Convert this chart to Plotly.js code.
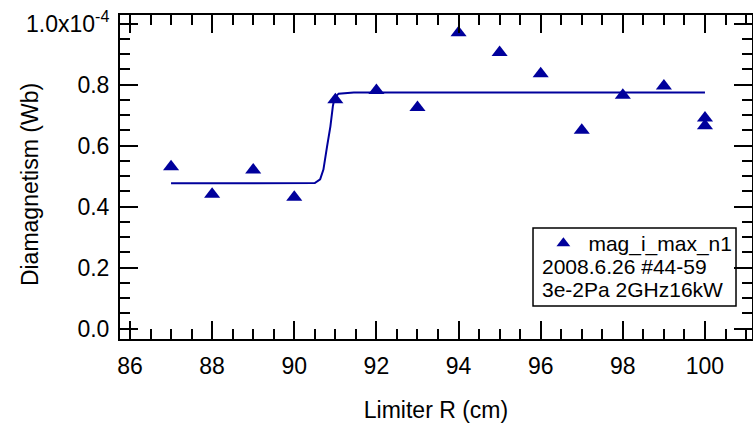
<!DOCTYPE html>
<html>
<head>
<meta charset="utf-8">
<script src="https://cdn.plot.ly/plotly-3.0.1.min.js"></script>
<style>html,body{margin:0;padding:0;background:#fff;}#chart{width:753px;height:427px;}</style>
</head>
<body>
<div id="chart"></div>
<script>
// Data (Diamagnetism in units of 1e-4 Wb)
const limiterR = [87, 88, 89, 90, 91, 92, 93, 94, 95, 96, 97, 98, 99, 100, 100];
const diamag = [0.53, 0.44, 0.52, 0.43, 0.75, 0.78, 0.725, 0.97, 0.905, 0.835, 0.65, 0.765, 0.795, 0.69, 0.665];
// Fit curve
const fitR = [87, 90.5, 90.63, 90.71, 90.8, 90.88, 90.94, 90.98, 91.08, 91.45, 100];
const fitY = [0.476, 0.477, 0.489, 0.521, 0.598, 0.663, 0.729, 0.756, 0.770, 0.774, 0.774];
const xTicks = [86, 88, 90, 92, 94, 96, 98, 100];
const yTicks = [0, 0.2, 0.4, 0.6, 0.8, 1.0];
const yTickText = ['0.0', '0.2', '0.4', '0.6', '0.8', '1.0x10<sup>-4</sup>'];
const seriesName = 'mag_i_max_n1';
const noteLines = ['2008.6.26 #44-59', '3e-2Pa 2GHz16kW'];

const FONT = 'Arial, "Liberation Sans", Helvetica, sans-serif';
const BLUE = '#00009c';

const traces = [
  {x: fitR, y: fitY, mode: 'lines', line: {color: BLUE, width: 2}, showlegend: false, hoverinfo: 'skip'},
  {x: limiterR, y: diamag, mode: 'markers', name: seriesName,
   marker: {symbol: 'triangle-up', size: 14, color: BLUE}}
];

const axisCommon = {
  showline: true, linecolor: '#000', linewidth: 2, mirror: 'ticks',
  ticks: 'inside', ticklen: 18, tickwidth: 2, tickcolor: '#000',
  showgrid: false, zeroline: false,
  tickfont: {family: FONT, size: 23, color: '#000'}
};

const layout = {
  width: 753, height: 427,
  margin: {l: 120, r: 1, t: 15, b: 88},
  paper_bgcolor: '#fff', plot_bgcolor: '#fff',
  font: {family: FONT, color: '#000'},
  xaxis: Object.assign({}, axisCommon, {
    range: [85.757, 101.145], tickvals: xTicks,
    minor: {tick0: 86, dtick: 0.5, ticks: 'inside', ticklen: 10, tickwidth: 2, tickcolor: '#000', showgrid: false},
    ticklabelstandoff: 5,
    title: {text: 'Limiter R (cm)', font: {family: FONT, size: 23, color: '#000'}, standoff: 24}
  }),
  yaxis: Object.assign({}, axisCommon, {
    range: [-0.0344, 1.0279], tickvals: yTicks, ticktext: yTickText,
    minor: {tick0: 0, dtick: 0.05, ticks: 'inside', ticklen: 10, tickwidth: 2, tickcolor: '#000', showgrid: false},
    ticklabelstandoff: 4
  }),
  showlegend: true,
  legend: {x: 0.662, y: 0.358, xanchor: 'left', yanchor: 'top', bgcolor: 'rgba(0,0,0,0)', borderwidth: 0,
           font: {family: FONT, size: 21, color: '#000'}, itemsizing: 'constant', itemwidth: 40, tracegroupgap: 0},
  shapes: [
    {type: 'rect', xref: 'paper', yref: 'paper', x0: 0.6535, x1: 0.9747, y0: 0.1019, y1: 0.3426,
     line: {color: '#000', width: 1.5}, fillcolor: 'rgba(255,255,255,0)', layer: 'above'}
  ],
  annotations: [
    {text: 'Diamagnetism (Wb)', xref: 'paper', yref: 'paper', x: -0.1424, y: 0.475, textangle: -90,
     xanchor: 'center', yanchor: 'middle', showarrow: false, font: {family: FONT, size: 23, color: '#000'}},
    {text: noteLines[0], xref: 'paper', yref: 'paper', x: 0.6646, y: 0.2253, xanchor: 'left', yanchor: 'middle',
     showarrow: false, font: {family: FONT, size: 21, color: '#000'}},
    {text: noteLines[1], xref: 'paper', yref: 'paper', x: 0.6646, y: 0.1543, xanchor: 'left', yanchor: 'middle',
     showarrow: false, font: {family: FONT, size: 21, color: '#000'}}
  ]
};

Plotly.newPlot('chart', traces, layout, {staticPlot: true, displayModeBar: false});
</script>
</body>
</html>
